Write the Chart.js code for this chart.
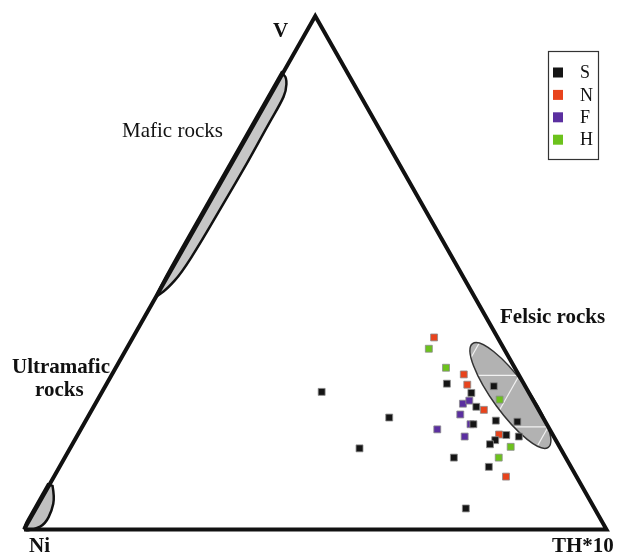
<!DOCTYPE html>
<html>
<head>
<meta charset="utf-8">
<script src="https://cdn.jsdelivr.net/npm/chart.js@4.4.0/dist/chart.umd.min.js"></script>
<style>
  body { margin: 0; background: #fff; }
</style>
</head>
<body>
<canvas id="ternary-chart" width="620" height="553"></canvas>
<script>
// ternary values (percent), Ni = 100 - V - TH*10
const sV  = [28.4, 27.9, 26.6, 23.9, 21.2, 21.0, 20.5, 18.4, 18.1, 17.4, 16.6, 14.0, 12.2, 4.1, 26.8, 21.8, 15.8];
const sTh = [58.4, 66.7, 63.5, 65.7, 70.4, 74.2, 66.9, 73.6, 75.9, 72.2, 71.7, 66.8, 73.7, 73.8, 37.7, 51.8, 49.7];

const nV  = [37.4, 30.2, 28.2, 23.3, 18.5, 10.3];
const nTh = [51.7, 60.4, 62.0, 67.3, 72.3, 77.6];

const fV  = [24.5, 25.1, 22.4, 20.5, 19.5, 18.1];
const fTh = [63.1, 63.9, 63.7, 66.4, 61.2, 66.6];

const hV  = [35.2, 31.5, 25.3, 16.1, 14.0];
const hTh = [51.9, 56.7, 69.0, 75.5, 74.5];

// field outlines
const maficV  = [88.4, 88.0, 85.4, 83.1, 78.6, 71.5, 63.8, 56.0, 49.9, 47.0, 45.8];
const maficTh = [0.5, 1.1, 2.3, 2.55, 2.5, 2.65, 2.5, 2.4, 2.05, 1.2, 0.4];
const ultraV  = [8.5, 6.3, 3.7, 1.1, 0.0];
const ultraTh = [0.65, 2.1, 2.95, 3.1, 1.9];
const felsicV  = [36.2, 16.0];   // ends of the long axis
const felsicTh = [58.9, 82.0];
const felsicHalfWidth = 3.0;     // in x units

const gridSteps = [10, 20, 30, 40, 50, 60, 70, 80, 90];
const legendLabels = ['S', 'N', 'F', 'H'];
const colors = ['#151515', '#e8431c', '#5b2fa0', '#6cc21c'];

const H = Math.sqrt(3) / 2;

function toXY(v, th) {
  return { x: th + v / 2, y: v * H };
}

function toPoints(vArr, thArr) {
  return vArr.map((v, i) => toXY(v, thArr[i]));
}

const triangle = [toXY(0, 0), toXY(0, 100), toXY(100, 0), toXY(0, 0)];

function px(chart, p) {
  return { x: chart.scales.x.getPixelForValue(p.x), y: chart.scales.y.getPixelForValue(p.y) };
}

function smoothPath(ctx, pts) {
  ctx.beginPath();
  ctx.moveTo(pts[0].x, pts[0].y);
  for (let i = 1; i < pts.length - 1; i++) {
    const mx = (pts[i].x + pts[i + 1].x) / 2;
    const my = (pts[i].y + pts[i + 1].y) / 2;
    ctx.quadraticCurveTo(pts[i].x, pts[i].y, mx, my);
  }
  const last = pts[pts.length - 1];
  ctx.lineTo(last.x, last.y);
  ctx.closePath();
}

function drawField(chart, vArr, thArr, back, fill) {
  const ctx = chart.ctx;
  let pts = toPoints(vArr, thArr).concat(back);
  pts = pts.map(p => px(chart, p));
  ctx.save();
  smoothPath(ctx, pts);
  ctx.fillStyle = fill;
  ctx.fill();
  ctx.lineWidth = 2.5;
  ctx.strokeStyle = '#111';
  ctx.stroke();
  ctx.restore();
}

const fieldsPlugin = {
  id: 'fields',
  beforeDatasetsDraw(chart) {
    const ctx = chart.ctx;

    // mafic field along the V-Ni side
    drawField(chart, maficV, maficTh,
      [toXY(45.0, -0.3), toXY(70, -0.3), toXY(89.0, -0.3)], '#c6c6c6');

    // ultramafic field at the Ni corner
    drawField(chart, ultraV, ultraTh,
      [toXY(-0.3, -0.3), toXY(4, -0.3), toXY(8.8, -0.3)], '#c0c0c0');

    // felsic ellipse
    const a = px(chart, toXY(felsicV[0], felsicTh[0]));
    const b = px(chart, toXY(felsicV[1], felsicTh[1]));
    const cx = (a.x + b.x) / 2, cy = (a.y + b.y) / 2;
    const rx = Math.hypot(b.x - a.x, b.y - a.y) / 2;
    const ry = chart.scales.x.getPixelForValue(felsicHalfWidth) - chart.scales.x.getPixelForValue(0);
    const ang = Math.atan2(b.y - a.y, b.x - a.x);
    ctx.save();
    ctx.beginPath();
    ctx.ellipse(cx, cy, rx, ry, ang, 0, Math.PI * 2);
    ctx.fillStyle = '#b2b2b2';
    ctx.fill();
    ctx.save();
    ctx.clip();
    ctx.strokeStyle = '#f2f2f2';
    ctx.lineWidth = 1.2;
    gridSteps.forEach(g => {
      let p1 = px(chart, toXY(g, 0)), p2 = px(chart, toXY(g, 100 - g));
      ctx.beginPath(); ctx.moveTo(p1.x, p1.y); ctx.lineTo(p2.x, p2.y); ctx.stroke();
      p1 = px(chart, toXY(0, g)); p2 = px(chart, toXY(100 - g, g));
      ctx.beginPath(); ctx.moveTo(p1.x, p1.y); ctx.lineTo(p2.x, p2.y); ctx.stroke();
    });
    ctx.restore();
    ctx.beginPath();
    ctx.ellipse(cx, cy, rx, ry, ang, 0, Math.PI * 2);
    ctx.lineWidth = 1.5;
    ctx.strokeStyle = '#333';
    ctx.stroke();
    ctx.restore();
  },
  afterDraw(chart) {
    const ctx = chart.ctx;
    ctx.save();
    ctx.fillStyle = '#111';
    ctx.textBaseline = 'alphabetic';
    ctx.textAlign = 'left';

    ctx.font = 'bold 21px "Liberation Serif"';
    ctx.fillText('V', 273, 37);
    ctx.fillText('Ni', 29, 552);
    ctx.fillText('TH*10', 552, 552);
    ctx.fillText('Felsic rocks', 500, 323);
    ctx.fillText('Ultramafic', 12, 373);
    ctx.fillText('rocks', 35, 396);

    ctx.font = '21px "Liberation Serif"';
    ctx.fillText('Mafic rocks', 122, 137);

    // legend box
    ctx.lineWidth = 1.2;
    ctx.strokeStyle = '#333';
    ctx.strokeRect(548.5, 51.5, 50, 108);
    ctx.font = '18px "Liberation Serif"';
    ctx.textBaseline = 'middle';
    legendLabels.forEach((lab, i) => {
      const y = 72.5 + i * 22.4;
      ctx.fillStyle = colors[i];
      ctx.fillRect(553, y - 5, 10, 10);
      ctx.fillStyle = '#111';
      ctx.fillText(lab, 580, y + 1);
    });
    ctx.restore();
  }
};

function pointSet(label, vArr, thArr, color) {
  return {
    label: label,
    data: toPoints(vArr, thArr),
    pointStyle: 'rect',
    pointRadius: 4.9,
    pointHoverRadius: 4.9,
    backgroundColor: color,
    borderColor: 'rgba(140,140,140,0.8)',
    borderWidth: 1,
    showLine: false,
    clip: false
  };
}

new Chart(document.getElementById('ternary-chart'), {
  type: 'scatter',
  data: {
    datasets: [
      {
        label: 'frame',
        data: triangle,
        showLine: true,
        borderColor: '#111',
        borderWidth: 4,
        borderJoinStyle: 'miter',
        pointRadius: 0,
        fill: false,
        clip: false
      },
      pointSet('S', sV, sTh, colors[0]),
      pointSet('N', nV, nTh, colors[1]),
      pointSet('F', fV, fTh, colors[2]),
      pointSet('H', hV, hTh, colors[3])
    ]
  },
  options: {
    responsive: false,
    animation: false,
    devicePixelRatio: 1,
    layout: { padding: { left: 24, right: 13.5, top: 16, bottom: 23.5 } },
    scales: {
      x: { type: 'linear', min: 0, max: 100, display: false },
      y: { type: 'linear', min: 0, max: 100 * H, display: false }
    },
    plugins: {
      legend: { display: false },
      tooltip: { enabled: false }
    }
  },
  plugins: [fieldsPlugin]
});
</script>
</body>
</html>
